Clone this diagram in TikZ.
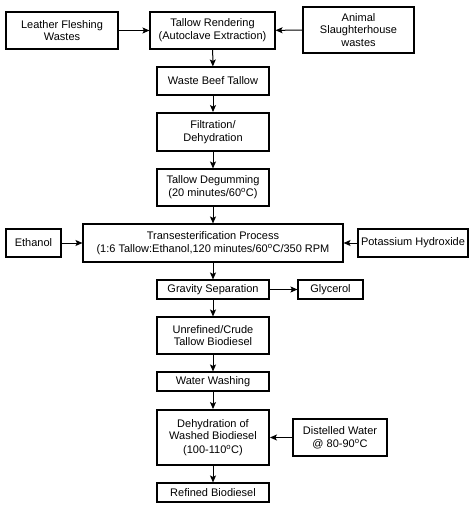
\documentclass[tikz,border=0pt]{standalone}
\usepackage{fontspec}
\setmainfont{Liberation Sans}
\usetikzlibrary{arrows.meta}
\tikzset{
  box/.style={draw=black, line width=1.1pt, rectangle, inner sep=0pt, align=center,
    font=\fontsize{11}{12.7}\selectfont},
  thickbox/.style={box, line width=1.9pt},
  arr/.style={draw=black, line width=1pt, -{Stealth[length=7pt,width=6pt,inset=1.5pt]}}
}
\newcommand{\degC}{\textsuperscript{o}C}
\begin{document}
\begin{tikzpicture}[x=1pt,y=-1pt]
\useasboundingbox (0,0) rectangle (474,508);
\node[box, minimum width=112, minimum height=37] (lfw) at (62,30.5) {Leather Fleshing\\Wastes};
\node[box, minimum width=125, minimum height=37] (tr) at (212.5,30.5) {Tallow Rendering\\(Autoclave Extraction)};
\node[box, minimum width=111, minimum height=46] (asw) at (358.5,30) {Animal\\Slaughterhouse\\wastes};
\node[box, minimum width=112, minimum height=28] (wbt) at (213,81) {Waste Beef Tallow};
\node[thickbox, minimum width=112, minimum height=38] (filt) at (213,132) {Filtration/\\Dehydration};
\node[box, minimum width=112, minimum height=37] (deg) at (213,187.5) {Tallow Degumming\\(20 minutes/60\degC)};
\node[box, minimum width=260, minimum height=38] (trans) at (213,243) {Transesterification Process\\(1:6 Tallow:Ethanol,120 minutes/60\degC/350 RPM};
\node[box, minimum width=55, minimum height=28] (eth) at (33.5,243) {Ethanol};
\node[box, minimum width=110, minimum height=28] (koh) at (413,243) {Potassium Hydroxide};
\node[box, minimum width=112, minimum height=19] (grav) at (213,289.5) {Gravity Separation};
\node[box, minimum width=65, minimum height=19] (gly) at (330.5,289.5) {Glycerol};
\node[box, minimum width=112, minimum height=37] (unref) at (213,335.5) {Unrefined/Crude\\Tallow Biodiesel};
\node[box, minimum width=112, minimum height=19] (ww) at (213,381.5) {Water Washing};
\node[thickbox, minimum width=112, minimum height=55] (dehyd) at (213,437.5) {Dehydration of\\Washed Biodiesel\\[1pt](100-110\degC)};
\node[box, minimum width=94, minimum height=37] (dw) at (340,437.5) {Distelled Water\\@ 80-90\degC};
\node[box, minimum width=112, minimum height=19] (ref) at (213,492.5) {Refined Biodiesel};
\draw[arr] (lfw) -- (tr);
\draw[arr] (asw) -- (tr);
\draw[arr] (tr) -- (wbt);
\draw[arr] (wbt) -- (filt);
\draw[arr] (filt) -- (deg);
\draw[arr] (deg) -- (trans);
\draw[arr] (eth) -- (trans);
\draw[arr] (koh) -- (trans);
\draw[arr] (trans) -- (grav);
\draw[arr] (grav) -- (gly);
\draw[arr] (grav) -- (unref);
\draw[arr] (unref) -- (ww);
\draw[arr] (ww) -- (dehyd);
\draw[arr] (dw) -- (dehyd);
\draw[arr] (dehyd) -- (ref);
\end{tikzpicture}
\end{document}
